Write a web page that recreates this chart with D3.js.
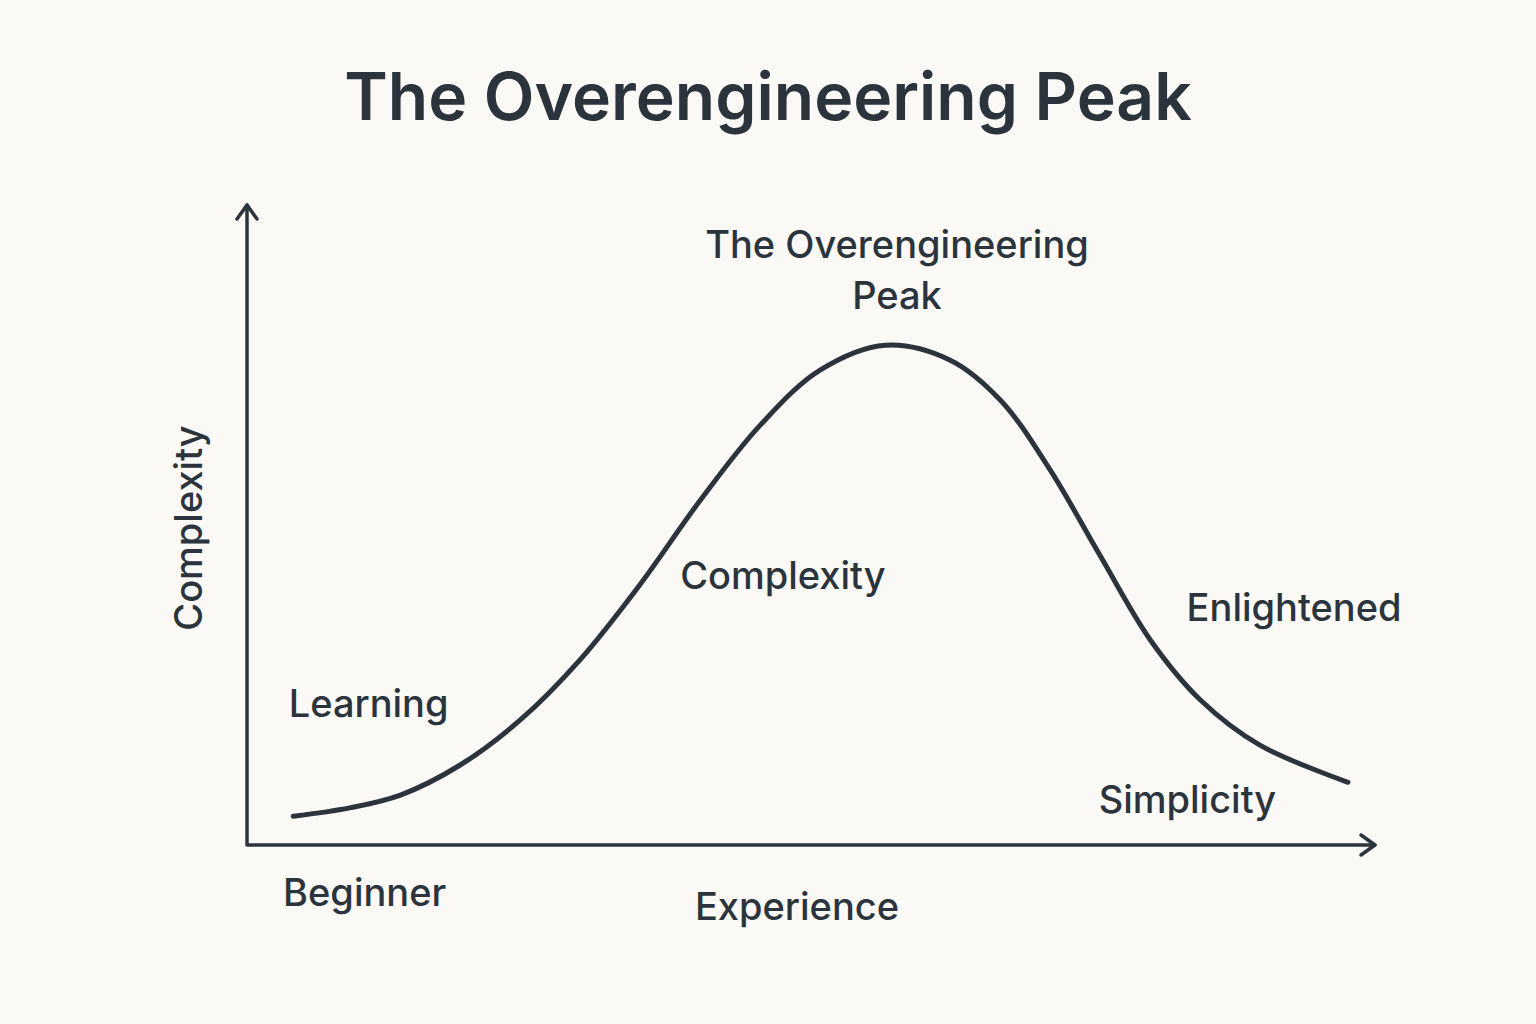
<!DOCTYPE html>
<html><head><meta charset="utf-8">
<script src="https://cdn.jsdelivr.net/npm/d3@7"></script>
<style>body{margin:0;background:#faf9f6;}svg{display:block;font-family:Inter,"Noto Sans",sans-serif;}</style>
</head><body><svg id="chart" width="1536" height="1024"></svg>
<script>
// curve (experience 0-100, complexity 0-100)
const curveX = [4.1, 9.1, 13.6, 18.9, 24.2, 29.5, 34.8, 40.2, 45.5, 50.8, 56.6, 62.3, 66.8, 71.2, 75.6, 80.1, 84.5, 89.8, 97.6];
const curveY = [4.5, 5.8, 7.8, 12.5, 19.5, 28.9, 40.6, 53.9, 65.6, 74.2, 78.1, 75.8, 69.5, 58.6, 45.3, 32.0, 22.7, 15.6, 9.8];
const labelText = ['Learning', 'Complexity', 'Enlightened', 'Simplicity', 'Beginner'];
const labelX = [3.7, 38.4, 83.3, 75.5, 3.2];
const labelY = [20, 40, 35, 5, -9.5];

const svg = d3.select('#chart');
const ink = '#2b343c';
const x = d3.scaleLinear().domain([0, 100]).range([247, 1375]);
const y = d3.scaleLinear().domain([0, 100]).range([845, 205]);

svg.append('text').attr('x', 768).attr('y', 120).attr('text-anchor', 'middle')
  .attr('font-size', 66).attr('font-weight', 600).attr('fill', ink).text('The Overengineering Peak');

// axes with arrowheads
const axes = svg.append('g').attr('stroke', ink).attr('stroke-width', 3.5).attr('fill', 'none')
  .attr('stroke-linecap', 'round').attr('stroke-linejoin', 'round');
axes.append('path').attr('d', `M${x(0)},${y(0)}H${x(100)}M${x(0)},${y(0)}V${y(100)}`);
axes.append('path').attr('d', `M${x(100) - 14},${y(0) - 10}L${x(100)},${y(0)}L${x(100) - 14},${y(0) + 10}`);
axes.append('path').attr('d', `M${x(0) - 10},${y(100) + 14}L${x(0)},${y(100)}L${x(0) + 10},${y(100) + 14}`);

const line = d3.line().x((d) => x(d[0])).y((d) => y(d[1])).curve(d3.curveCatmullRom.alpha(0.5));
svg.append('path').datum(d3.zip(curveX, curveY)).attr('d', line)
  .attr('fill', 'none').attr('stroke', ink).attr('stroke-width', 5).attr('stroke-linecap', 'round');

const lbl = svg.append('g').attr('font-size', 38).attr('font-weight', 500).attr('fill', ink);
labelText.forEach((t, i) => {
  lbl.append('text').attr('x', x(labelX[i])).attr('y', y(labelY[i])).text(t);
});
lbl.append('text').attr('x', 897).attr('y', 258).attr('text-anchor', 'middle')
  .selectAll('tspan').data(['The Overengineering', 'Peak']).join('tspan')
  .attr('x', 897).attr('dy', (d, i) => (i ? 51 : 0)).text((d) => d);
lbl.append('text').attr('x', 797).attr('y', 920).attr('text-anchor', 'middle').text('Experience');
lbl.append('text').attr('transform', `translate(202,528) rotate(-90)`).attr('text-anchor', 'middle').text('Complexity');
</script></body></html>
